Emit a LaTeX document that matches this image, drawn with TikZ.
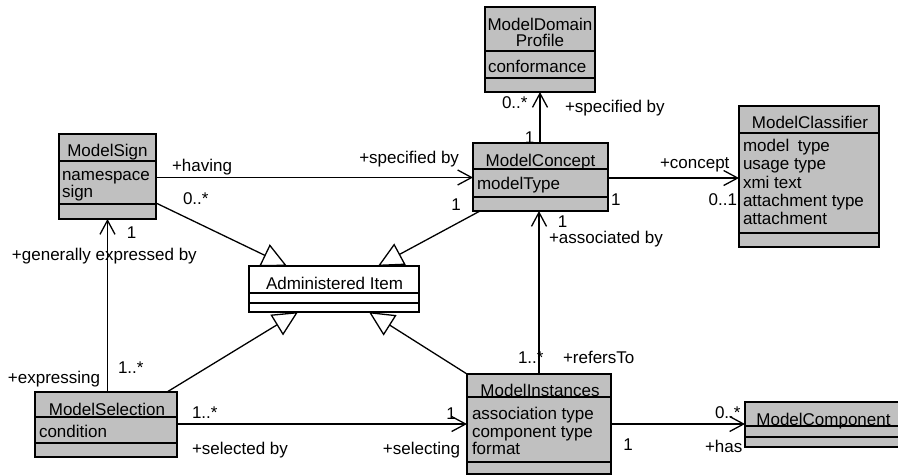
\documentclass[tikz,border=0pt]{standalone}
\usepackage{fontspec}
\setmainfont{Liberation Sans}
\usetikzlibrary{arrows.meta}
\definecolor{boxgray}{RGB}{192,192,192}
\newcommand{\umlfont}{\fontsize{17}{18}\selectfont}

\begin{document}
\begin{tikzpicture}[x=1pt,y=-1pt,
    every node/.style={font=\umlfont, inner sep=0pt, outer sep=0pt},
    cls/.style={draw, fill=boxgray, line width=1.8pt, anchor=north west},
    sepline/.style={line width=1.6pt},
    ctitle/.style={anchor=base},
    attr/.style={anchor=base west},
    lbl/.style={anchor=base west},
    nav/.style={line width=1.3pt, -{Straight Barb[length=14pt,width=15pt]}},
    gen/.style={line width=1.3pt, -{Triangle[open,length=25pt,width=24pt]}}]
    \useasboundingbox (0,0) rectangle (898,475);

    \node[cls, minimum width=97, minimum height=85] (sign) at (59,134) {};
    \draw[sepline] (sign.west |- 0,161) -- (sign.east |- 0,161);
    \draw[sepline] (sign.west |- 0,204) -- (sign.east |- 0,204);
    \node[ctitle] (sign-t) at (107.5,156.5) {ModelSign};
    \node[attr] (sign-a1) at (62,180) {namespace};
    \node[attr] (sign-a2) at (62,197) {sign};

    \node[cls, minimum width=110, minimum height=85] (profile) at (485,7) {};
    \draw[sepline] (profile.west |- 0,51) -- (profile.east |- 0,51);
    \draw[sepline] (profile.west |- 0,78) -- (profile.east |- 0,78);
    \node[ctitle] (profile-t1) at (540,30) {ModelDomain};
    \node[ctitle] (profile-t2) at (540,46) {Profile};
    \node[attr] (profile-a1) at (488,72.5) {conformance};

    \node[cls, minimum width=135, minimum height=68] (concept) at (473,143) {};
    \draw[sepline] (concept.west |- 0,169) -- (concept.east |- 0,169);
    \draw[sepline] (concept.west |- 0,197) -- (concept.east |- 0,197);
    \node[ctitle] (concept-t) at (540.5,166.5) {ModelConcept};
    \node[attr] (concept-a1) at (477,189) {modelType};

    \node[cls, minimum width=140, minimum height=141] (classifier) at (739,106) {};
    \draw[sepline] (classifier.west |- 0,133) -- (classifier.east |- 0,133);
    \draw[sepline] (classifier.west |- 0,233) -- (classifier.east |- 0,233);
    \node[ctitle] (classifier-t) at (810,128.5) {ModelClassifier};
    \node[attr] (classifier-a1) at (743,151.5) {model\enspace type};
    \node[attr] (classifier-a2) at (743,169.8) {usage type};
    \node[attr] (classifier-a3) at (743,188) {xmi text};
    \node[attr] (classifier-a4) at (743,206.5) {attachment type};
    \node[attr] (classifier-a5) at (743,224.8) {attachment};

    \node[cls, minimum width=142, minimum height=65] (selection) at (35,392) {};
    \draw[sepline] (selection.west |- 0,417) -- (selection.east |- 0,417);
    \draw[sepline] (selection.west |- 0,443) -- (selection.east |- 0,443);
    \node[ctitle] (selection-t) at (107,415) {ModelSelection};
    \node[attr] (selection-a1) at (39,437.5) {condition};

    \node[cls, minimum width=144, minimum height=100] (instances) at (467,374) {};
    \draw[sepline] (instances.west |- 0,397) -- (instances.east |- 0,397);
    \draw[sepline] (instances.west |- 0,462) -- (instances.east |- 0,462);
    \node[ctitle] (instances-t) at (540,396) {ModelInstances};
    \node[attr] (instances-a1) at (472,419.5) {association type};
    \node[attr] (instances-a2) at (472,437) {component type};
    \node[attr] (instances-a3) at (472,454.5) {format};

    \node[cls, minimum width=157, minimum height=45] (component) at (745,402) {};
    \draw[sepline] (component.west |- 0,426) -- (component.east |- 0,426);
    \draw[sepline] (component.west |- 0,437) -- (component.east |- 0,437);
    \node[ctitle] (component-t) at (823.5,425) {ModelComponent};

    \node[cls, fill=white, minimum width=170, minimum height=46] (admin) at (249,266) {};
    \draw[sepline] (admin.west |- 0,293) -- (admin.east |- 0,293);
    \draw[sepline] (admin.west |- 0,303) -- (admin.east |- 0,303);
    \node[ctitle] (admin-t) at (334.5,289.5) {Administered Item};

    \draw[nav] (sign.east |- 0,177.5) -- (concept.west |- 0,177.5);
    \node[lbl] (having) at (172,171) {+having};
    \node[lbl] (having-m) at (183,204) {0..*};
    \node[anchor=base east] (spec1) at (459,163.5) {+specified by};
    \node[ctitle] (spec1-m) at (456,210) {1};

    \draw[nav] (profile.south |- concept.north) -- (profile.south);
    \node[lbl] (spec2-m) at (502,108.5) {0..*};
    \node[lbl] (spec2) at (565,112) {+specified by};
    \node[ctitle] (spec2-n) at (529.5,143) {1};

    \draw[nav] (concept.east |- 0,178) -- (classifier.west |- 0,178);
    \node[lbl] (conc) at (660,168.5) {+concept};
    \node[anchor=base east] (conc-m) at (737,205.5) {0..1};
    \node[lbl] (conc-n) at (611,205) {1};

    \draw[nav] (sign.south |- selection.north) -- (sign.south);
    \node[ctitle] (gen-n) at (131.5,238) {1};
    \node[lbl] (gen) at (12,260) {+generally expressed by};
    \node[lbl] (expr) at (8,383) {+expressing};
    \node[lbl] (expr-m) at (118,373) {1..*};

    \draw[gen] (sign.east |- 0,203) -- (287,0 |- admin.north);
    \draw[gen] (480,0 |- concept.south) -- (378,0 |- admin.north);
    \draw[gen] (167,0 |- selection.north) -- (298,0 |- admin.south);
    \draw[gen] (instances.north west) -- (369,0 |- admin.south);

    \draw[nav] (539,0 |- instances.north) -- (539,0 |- concept.south);
    \node[ctitle] (assoc-n) at (562.5,227) {1};
    \node[lbl] (assoc) at (549,243) {+associated by};
    \node[lbl] (refers-m) at (518,363.5) {1..*};
    \node[lbl] (refers) at (563,363.5) {+refersTo};

    \draw[nav] (selection.east |- 0,424) -- (instances.west |- 0,424);
    \node[lbl] (sel-m) at (192,418.5) {1..*};
    \node[lbl] (sel) at (192,454) {+selected by};
    \node[ctitle] (sel-n) at (451,419) {1};
    \node[anchor=base east] (seling) at (460,454) {+selecting};

    \draw[nav] (instances.east |- 0,424) -- (component.west |- 0,424);
    \node[ctitle] (has-n) at (628,450) {1};
    \node[lbl] (has-m) at (715,418.5) {0..*};
    \node[lbl] (has) at (705,452) {+has};
\end{tikzpicture}
\end{document}
